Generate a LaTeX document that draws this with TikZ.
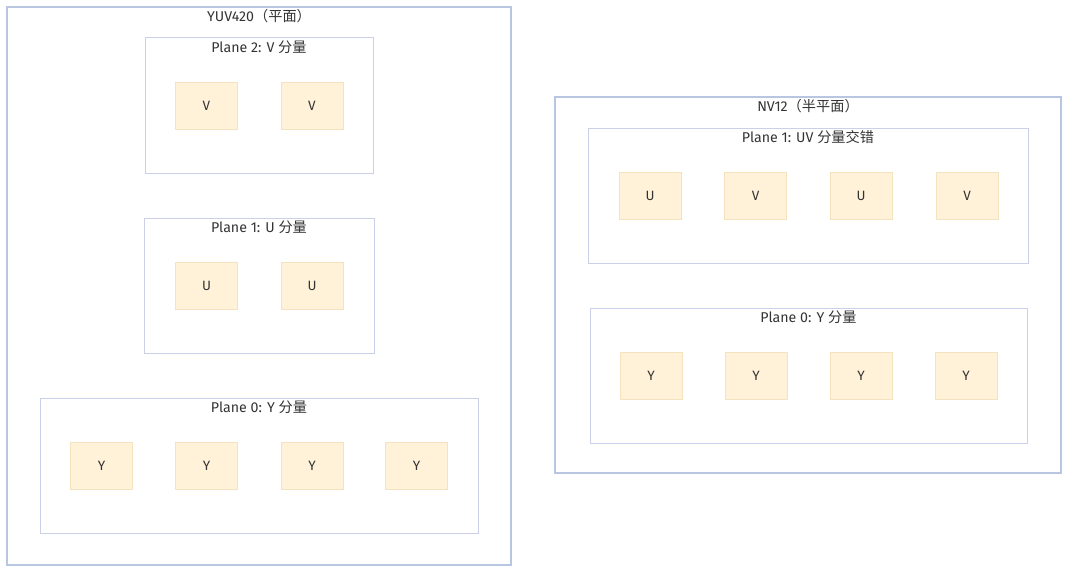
\documentclass[tikz,border=0pt]{standalone}
\usepackage{fontspec}
\setmainfont{Fira Sans}
\newfontfamily\cjk{Noto Sans CJK SC}
\usepackage{xcolor}
\usetikzlibrary{positioning}
\definecolor{cellfill}{HTML}{FFF2D9}
\definecolor{celldraw}{HTML}{F5E3BF}
\definecolor{planedraw}{HTML}{C9D0E8}
\definecolor{groupdraw}{HTML}{B9C6E2}
\definecolor{txt}{HTML}{333333}

\begin{document}
\begin{tikzpicture}[
  x=1pt,y=-1pt,
  group/.style={draw=groupdraw,line width=1.2pt,minimum width=#1},
  plane/.style={draw=planedraw,line width=1pt,minimum height=135pt,minimum width=#1},
  cell/.style={draw=celldraw,fill=cellfill,line width=0.8pt,minimum width=62pt,
               minimum height=47pt,text=txt,font=\fontsize{13.5}{16}\selectfont},
  title/.style={below=3pt,inner sep=0pt,text=txt,font=\fontsize{14.2}{17}\selectfont}
]
\useasboundingbox (0,0) rectangle (1080,578);
% YUV420, planar
\node[group=504pt,minimum height=558pt] (yuv) at (259,286) {};
\node[title] (yuvtitle) at (yuv.north) {YUV420{\cjk （平面）}};
\node[plane=228pt] (yv) at (259,105.5) {};
\node[title] (yvtitle) at (yv.north) {Plane 2: V {\cjk 分量}};
\node[cell] (yv1) at (206.5,105.5) {V};
\node[cell] (yv2) at (312,105.5) {V};
\node[plane=230pt] (yu) at (259,285.5) {};
\node[title] (yutitle) at (yu.north) {Plane 1: U {\cjk 分量}};
\node[cell] (yu1) at (206.5,285.5) {U};
\node[cell] (yu2) at (312,285.5) {U};
\node[plane=438pt] (yy) at (259,465.5) {};
\node[title] (yytitle) at (yy.north) {Plane 0: Y {\cjk 分量}};
\node[cell] (yy1) at (101.5,465.5) {Y};
\node[cell] (yy2) at (206.5,465.5) {Y};
\node[cell] (yy3) at (312,465.5) {Y};
\node[cell] (yy4) at (416.5,465.5) {Y};
% NV12, semi-planar
\node[group=506pt,minimum height=376pt] (nv) at (808,285) {};
\node[title] (nvtitle) at (nv.north) {NV12{\cjk （半平面）}};
\node[plane=440pt] (nuv) at (808,195.5) {};
\node[title] (nuvtitle) at (nuv.north) {Plane 1: UV {\cjk 分量交错}};
\node[cell] (nuv1) at (650,195.5) {U};
\node[cell] (nuv2) at (755.5,195.5) {V};
\node[cell] (nuv3) at (861,195.5) {U};
\node[cell] (nuv4) at (967,195.5) {V};
\node[plane=437pt] (ny) at (808.5,375.5) {};
\node[title] (nytitle) at (ny.north) {Plane 0: Y {\cjk 分量}};
\node[cell] (ny1) at (651,375.5) {Y};
\node[cell] (ny2) at (756,375.5) {Y};
\node[cell] (ny3) at (861,375.5) {Y};
\node[cell] (ny4) at (966,375.5) {Y};
\end{tikzpicture}
\end{document}
